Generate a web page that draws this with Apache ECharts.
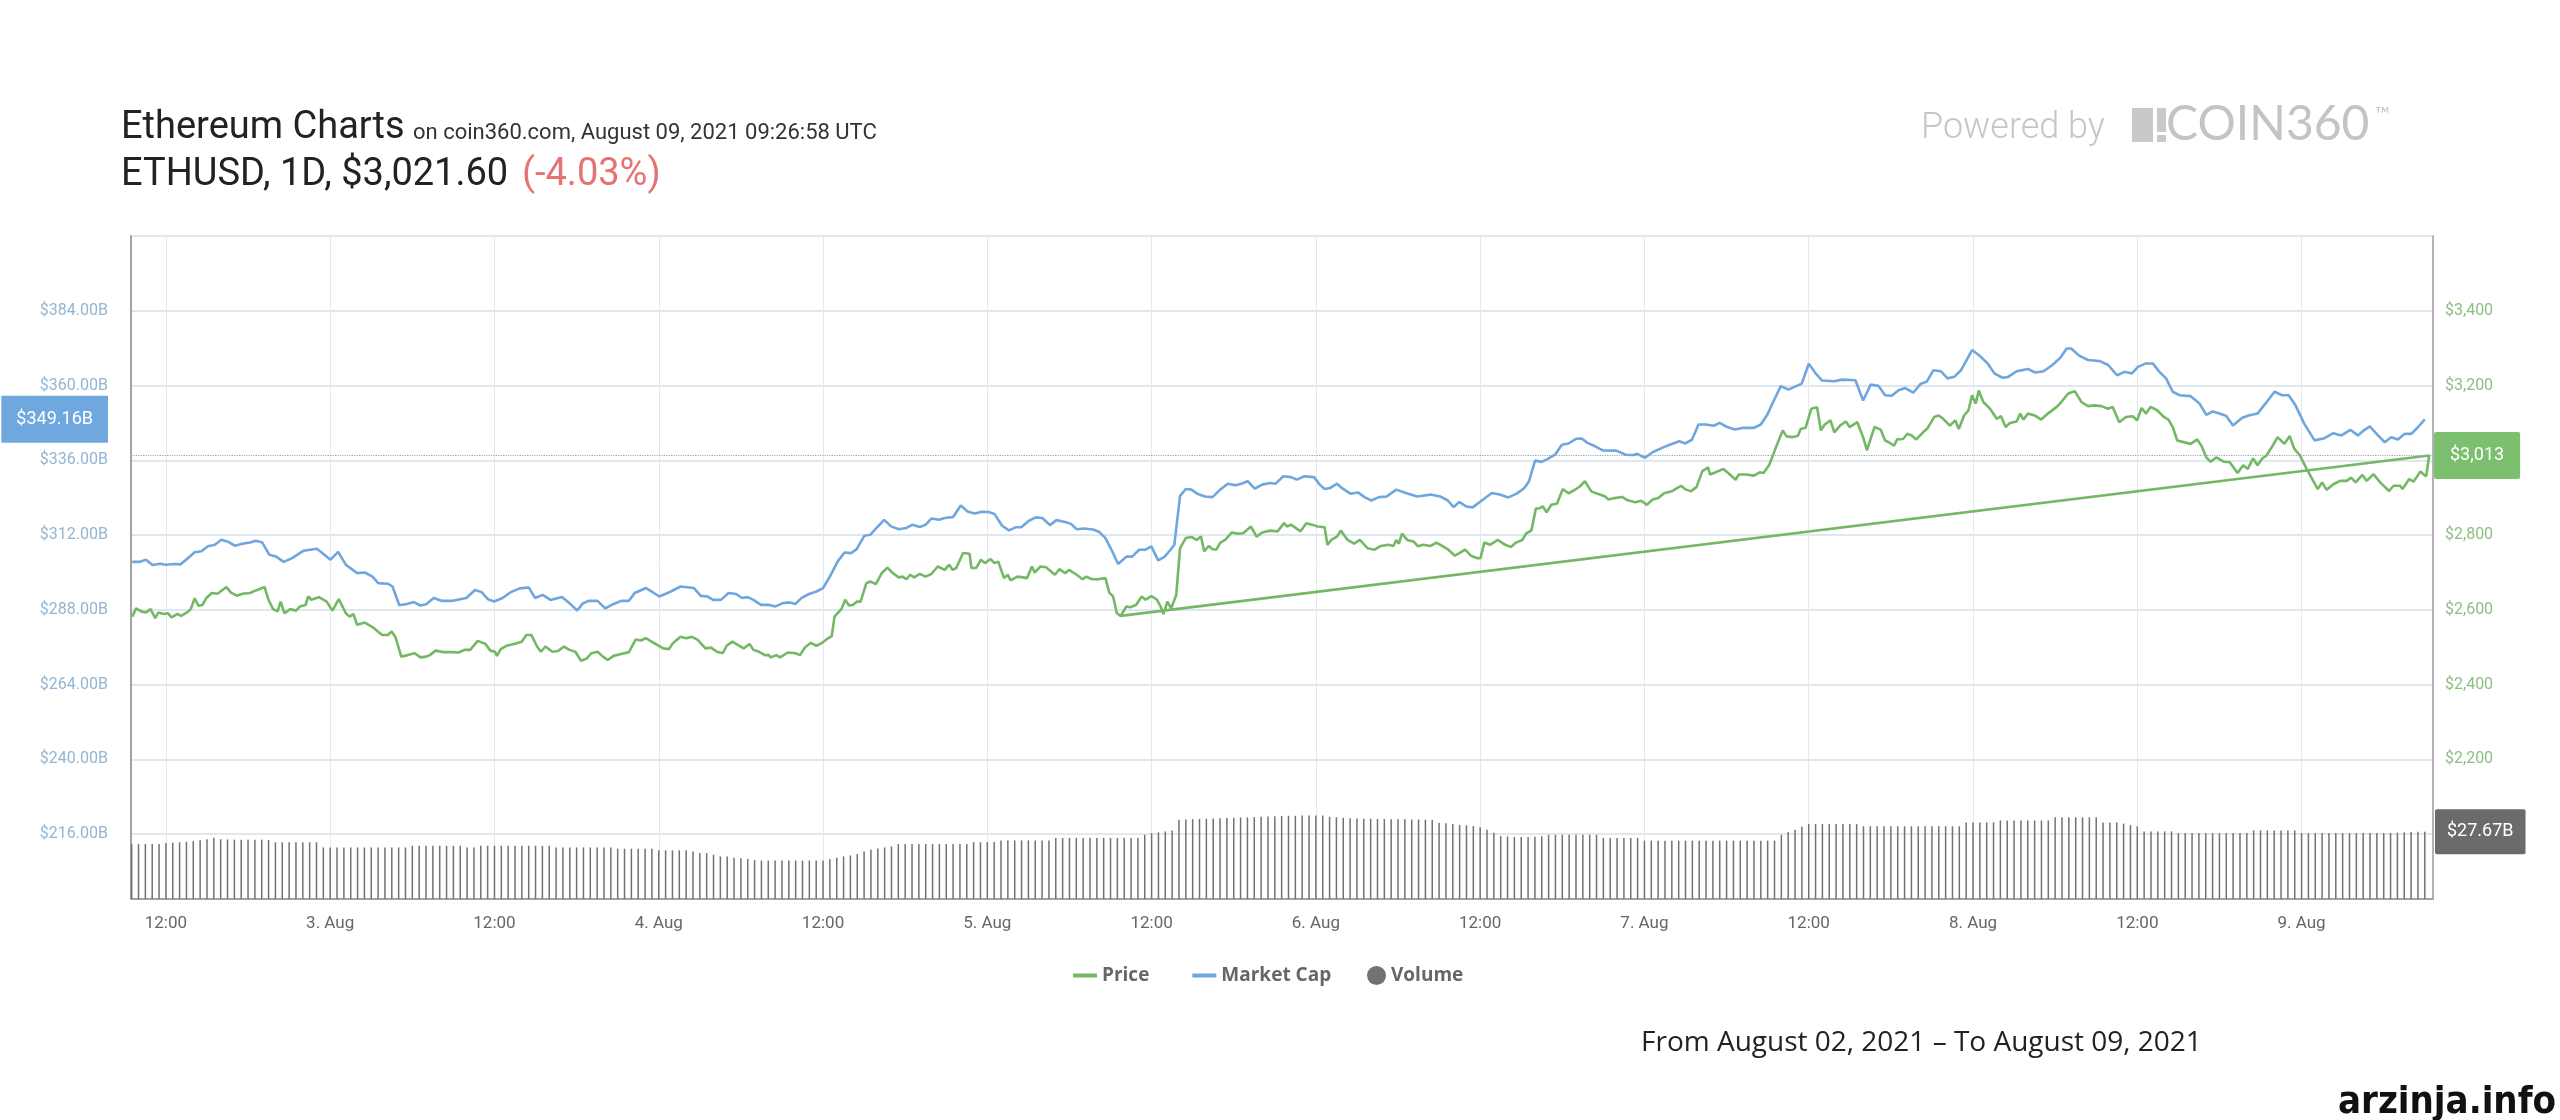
<!DOCTYPE html>
<html><head><meta charset="utf-8">
<script src="https://cdn.jsdelivr.net/npm/echarts@6.0.0/dist/echarts.min.js"></script>
<style>html,body{margin:0;padding:0;background:#fff;}#c{width:2560px;height:1120px;}</style>
</head><body><div id="c"></div>
<script>
// ---- data (hours counted from Aug 02, 2021 00:00 UTC) ----
const marketCapPoints = [[9.54,303.4],[10.04,303.4],[10.55,304.1],[11.02,302.4],[11.58,302.8],[12.00,302.5],[12.56,302.7],[13.06,302.6],[13.54,304.3],[14.10,306.5],[14.60,306.8],[15.07,308.4],[15.58,308.9],[16.05,310.5],[16.53,309.9],[17.03,308.6],[17.59,309.2],[18.15,309.6],[18.57,310.2],[19.04,309.6],[19.55,305.7],[20.05,305.1],[20.61,303.4],[21.22,304.6],[22.06,307.0],[23.04,307.6],[24.02,304.1],[24.58,306.6],[25.14,302.5],[25.97,299.8],[26.53,300.0],[27.09,298.7],[27.51,296.6],[28.21,296.4],[28.55,295.5],[29.05,289.5],[29.61,289.9],[30.11,290.5],[30.59,289.4],[31.01,289.8],[31.56,291.8],[32.12,290.9],[32.96,290.9],[33.94,291.8],[34.58,294.4],[35.06,293.7],[35.53,291.4],[35.98,290.7],[36.59,291.8],[37.15,293.6],[37.85,294.9],[38.50,295.2],[38.97,291.8],[39.53,292.8],[40.09,291.2],[40.93,292.1],[41.49,290.1],[42.04,287.8],[42.46,290.1],[42.88,290.9],[43.53,290.9],[44.09,288.5],[44.70,289.9],[45.26,290.9],[45.82,290.9],[46.24,293.4],[47.08,295.0],[48.05,292.3],[48.89,293.9],[49.59,295.5],[50.57,295.0],[51.07,292.5],[51.55,292.3],[51.97,291.2],
[52.54,291.2],[53.10,293.4],[53.66,293.1],[54.07,291.8],[54.49,292.1],[54.91,291.2],[55.47,289.6],[56.03,289.6],[56.53,289.1],[57.01,290.1],[57.57,290.4],[57.99,289.9],[58.41,291.8],[58.97,293.1],[59.52,293.9],[60.00,295.0],[60.50,298.7],[61.06,303.5],[61.57,306.4],[62.04,306.2],[62.46,307.5],[63.02,311.8],[63.44,312.1],[63.91,314.3],[64.47,316.9],[64.97,314.8],[65.53,313.9],[66.09,314.3],[66.51,315.3],[67.07,314.6],[67.49,315.3],[67.91,317.3],[68.47,316.9],[68.89,317.5],[69.50,317.8],[70.06,321.5],[70.56,319.6],[71.07,318.9],[71.63,319.5],[72.10,319.4],[72.52,318.8],[73.08,315.0],[73.58,313.5],[74.06,314.5],[74.48,314.5],[75.04,316.6],[75.54,317.7],[76.02,317.5],[76.57,315.2],[77.05,316.8],[77.69,316.2],[78.11,315.6],[78.53,313.9],[79.09,314.1],[79.79,313.7],[80.21,312.9],[80.63,311.0],[81.19,306.2],[81.55,302.7],[82.16,305.1],[82.58,305.1],[83.09,307.3],[83.56,307.3],[83.98,308.4],[84.48,303.9],[84.96,305.1],[85.38,307.3],[85.66,308.9],[86.08,324.6],[86.50,326.8],[86.91,326.6],[87.33,325.3],[87.89,324.4],[88.45,324.2],[89.01,326.6],[89.57,328.5],[90.13,328.0],[90.55,328.5],[91.02,329.3],[91.53,326.9],[92.08,328.2],[92.64,328.7],[93.06,328.5],[93.62,330.9],[94.18,330.6],[94.60,329.8],
[95.16,330.9],[95.86,330.6],[96.28,328.2],[96.64,326.8],[97.03,327.1],[97.54,328.5],[97.96,326.9],[98.52,325.3],[99.07,325.7],[99.55,324.2],[100.05,323.1],[100.61,324.2],[101.17,324.4],[101.87,326.6],[102.57,325.5],[103.41,324.4],[104.38,325.0],[105.08,324.4],[105.64,323.1],[106.06,321.0],[106.48,322.6],[106.98,321.2],[107.46,320.9],[108.02,322.8],[108.86,325.5],[109.42,325.0],[110.06,324.1],[110.67,325.3],[111.23,327.1],[111.57,329.3],[112.01,335.9],[112.49,335.5],[112.91,336.4],[113.47,337.8],[113.97,341.0],[114.45,341.4],[115.00,342.9],[115.42,343.0],[115.84,341.6],[116.40,340.5],[116.96,339.2],[117.94,339.1],[118.64,337.8],[119.20,337.7],[119.48,338.1],[120.04,336.8],[120.59,338.6],[121.29,340.0],[121.85,341.0],[122.55,342.1],[122.97,341.4],[123.47,342.6],[123.95,347.5],[124.51,347.5],[125.07,347.1],[125.49,348.0],[126.04,346.7],[126.60,345.9],[127.16,346.4],[128.00,346.4],[128.50,347.5],[128.98,350.7],[129.54,356.0],[129.96,359.8],[130.52,358.7],[131.08,359.8],[131.49,360.6],[132.00,367.0],[132.47,364.1],[132.98,361.6],[133.87,361.4],[134.43,361.9],[135.41,361.7],[135.97,355.2],[136.53,360.3],
[137.09,359.9],[137.58,356.9],[138.07,356.7],[138.56,358.5],[139.05,359.2],[139.64,357.7],[140.19,360.6],[140.61,361.2],[141.10,364.9],[141.65,364.6],[142.14,362.3],[142.63,362.8],[143.12,364.9],[143.93,371.4],[144.42,369.8],[145.07,367.1],[145.56,363.9],[146.15,362.5],[146.54,362.7],[147.19,364.6],[148.01,365.3],[148.56,364.2],[149.15,364.6],[149.80,366.6],[150.38,368.9],[150.84,371.9],[151.17,371.9],[151.75,369.6],[152.40,368.2],[153.22,367.9],[153.87,366.6],[154.52,363.3],[155.07,364.4],[155.60,363.9],[156.05,366.0],[156.64,367.1],[157.13,367.1],[157.62,364.4],[158.10,362.3],[158.59,358.0],[159.08,356.9],[159.90,356.6],[160.55,354.2],[161.04,350.6],[161.52,351.7],[162.01,351.0],[162.50,350.2],[162.99,347.2],[163.64,349.6],[164.13,350.4],[164.78,351.0],[165.27,353.7],[166.02,358.0],[166.57,356.9],[167.06,356.9],[167.55,353.7],[168.20,347.7],[168.95,342.4],[169.67,343.1],[170.32,344.7],[170.91,344.0],[171.56,345.8],[172.11,344.0],[172.60,345.8],[172.99,346.9],[173.58,344.0],[174.07,341.8],[174.55,343.4],[175.04,342.7],[175.53,344.5],[176.02,344.5],[176.51,346.7],[177.00,349.16]];

const pricePoints = [[9.54,2582],[9.82,2604],[10.18,2596],[10.55,2593],[10.88,2602],[11.22,2578],[11.44,2593],[11.86,2589],[12.14,2591],[12.42,2580],[12.84,2589],[13.12,2584],[13.54,2593],[13.82,2602],[14.10,2631],[14.38,2611],[14.66,2613],[14.94,2631],[15.35,2645],[15.77,2643],[16.42,2661],[16.75,2646],[17.17,2638],[17.59,2643],[18.15,2645],[18.57,2652],[19.21,2661],[19.49,2627],[19.83,2602],[20.16,2596],[20.38,2622],[20.66,2591],[21.08,2602],[21.50,2598],[21.78,2609],[22.20,2613],[22.40,2636],[22.62,2627],[23.18,2634],[23.74,2622],[24.16,2598],[24.63,2629],[25.14,2591],[25.42,2582],[25.69,2589],[25.97,2560],[26.53,2566],[27.09,2554],[27.79,2533],[28.21,2533],[28.49,2542],[28.77,2527],[29.19,2475],[29.66,2479],[30.17,2484],[30.59,2473],[31.01,2475],[31.28,2479],[31.70,2491],[32.26,2487],[32.96,2487],[33.38,2486],[33.80,2493],[34.22,2493],[34.78,2517],[35.34,2509],[35.70,2491],[36.04,2488],[36.18,2477],[36.46,2495],[36.87,2504],[37.43,2509],[37.99,2515],[38.33,2533],[38.69,2533],[39.11,2502],[39.39,2488],[39.72,2502],[40.23,2488],[40.65,2490],[41.07,2502],[41.49,2493],[41.91,2488],[42.32,2464],[42.74,2470],[43.08,2484],[43.53,2488],[43.92,2475],[44.28,2466],[44.70,2477],[45.26,2482],[45.82,2487],[46.32,2521],[46.66,2518],[47.08,2524],[47.63,2512],[48.33,2497],[48.75,2495],[49.03,2511],[49.59,2528],[50.01,2524],[50.43,2528],[50.85,2520],[51.41,2497],[51.83,2499],[52.25,2488],
[52.68,2484],[52.96,2504],[53.38,2515],[53.80,2506],[54.21,2497],[54.63,2509],[54.91,2493],[55.33,2488],[55.75,2479],[56.03,2479],[56.17,2473],[56.59,2479],[56.87,2473],[57.43,2486],[57.99,2484],[58.32,2479],[58.69,2500],[59.11,2512],[59.52,2504],[59.94,2512],[60.36,2524],[60.64,2530],[60.84,2582],[61.06,2591],[61.34,2602],[61.62,2627],[61.90,2612],[62.18,2613],[62.46,2622],[62.74,2622],[63.16,2671],[63.44,2676],[63.86,2669],[64.28,2698],[64.70,2713],[65.11,2698],[65.53,2687],[65.81,2689],[66.09,2682],[66.37,2694],[66.65,2687],[67.07,2696],[67.49,2689],[67.91,2696],[68.38,2716],[68.89,2707],[69.22,2721],[69.45,2707],[69.73,2712],[70.23,2752],[70.70,2750],[70.84,2712],[71.18,2712],[71.54,2734],[71.82,2725],[72.24,2736],[72.52,2725],[72.80,2729],[73.22,2685],[73.50,2694],[73.70,2679],[74.20,2689],[74.62,2687],[74.90,2685],[75.26,2716],[75.46,2700],[75.88,2716],[76.29,2714],[76.94,2694],[77.27,2709],[77.69,2698],[77.97,2707],[78.53,2694],[78.95,2682],[79.23,2689],[79.65,2682],[80.07,2682],[80.63,2685],[80.91,2646],[81.19,2636],[81.46,2591],[81.74,2584],[82.16,2609],[82.44,2607],[82.86,2613],[83.28,2636],[83.56,2627],[83.98,2637],[84.40,2627],[84.68,2607],[84.87,2589],[85.15,2622],[85.43,2604],[85.80,2640],[86.08,2765],[86.50,2792],[86.91,2795],[87.28,2787],[87.61,2796],[87.84,2756],[88.17,2771],[88.45,2762],[88.73,2761],[89.01,2779],[89.43,2789],[89.85,2807],[90.27,2804],[90.69,2805],[91.25,2823],[91.67,2796],[92.08,2807],[92.64,2812],[93.20,2810],[93.68,2832],[93.90,2823],[94.18,2828],
[94.88,2810],[95.30,2832],[95.72,2828],[96.14,2823],[96.64,2821],[96.84,2774],[97.12,2787],[97.54,2796],[97.82,2812],[98.32,2787],[98.79,2777],[99.21,2787],[99.77,2765],[100.28,2761],[100.75,2771],[101.31,2774],[101.67,2771],[101.87,2787],[102.06,2777],[102.29,2804],[102.71,2786],[103.13,2783],[103.46,2770],[103.83,2774],[104.38,2771],[104.80,2780],[105.22,2771],[105.64,2762],[106.15,2745],[106.48,2752],[106.90,2761],[107.32,2745],[107.82,2738],[108.02,2738],[108.30,2780],[108.72,2774],[109.28,2787],[109.83,2774],[110.25,2768],[110.62,2780],[111.09,2787],[111.37,2805],[111.74,2812],[112.07,2871],[112.35,2872],[112.57,2877],[112.85,2861],[113.19,2881],[113.61,2884],[114.03,2923],[114.45,2912],[114.87,2920],[115.28,2930],[115.65,2944],[116.12,2917],[116.54,2911],[117.10,2904],[117.38,2895],[117.80,2899],[118.36,2902],[118.78,2893],[119.34,2888],[119.76,2892],[120.18,2881],[120.59,2895],[121.01,2899],[121.43,2912],[121.99,2917],[122.41,2926],[122.69,2932],[122.97,2923],[123.39,2917],[123.81,2929],[124.23,2971],[124.65,2981],[124.79,2962],[125.21,2968],[125.77,2977],[126.18,2964],[126.66,2948],[126.88,2962],[127.44,2962],[128.00,2959],[128.42,2968],[128.70,2966],[129.12,2988],[129.68,3042],[130.10,3080],[130.38,3064],[130.80,3062],[131.22,3066],[131.41,3084],[131.77,3087],[132.19,3138],[132.61,3142],[132.89,3080],[133.17,3096],[133.59,3107],[133.87,3075],[134.29,3093],[134.71,3104],[134.99,3089],[135.55,3102],[135.97,3062],[136.25,3027],[136.80,3089],
[137.26,3082],[137.58,3053],[137.91,3047],[138.23,3039],[138.46,3056],[138.89,3057],[139.21,3071],[139.54,3066],[139.86,3056],[140.35,3075],[140.68,3086],[141.17,3116],[141.49,3120],[141.82,3111],[142.31,3093],[142.70,3107],[142.96,3084],[143.35,3120],[143.67,3134],[143.93,3174],[144.20,3152],[144.42,3187],[144.75,3156],[145.24,3138],[145.73,3111],[146.05,3118],[146.38,3089],[146.70,3100],[147.19,3104],[147.45,3125],[147.68,3109],[148.01,3125],[148.50,3120],[148.98,3109],[149.47,3125],[150.12,3143],[150.45,3156],[150.94,3178],[151.43,3185],[151.92,3156],[152.40,3145],[152.89,3147],[153.38,3145],[153.87,3138],[154.20,3143],[154.68,3102],[155.17,3116],[155.66,3118],[155.99,3107],[156.31,3140],[156.64,3125],[156.97,3143],[157.45,3134],[157.94,3116],[158.27,3109],[158.59,3089],[158.92,3053],[159.24,3050],[159.90,3044],[160.38,3056],[160.71,3037],[161.04,3008],[161.36,2996],[161.78,3008],[162.34,2996],[162.76,2995],[163.32,2966],[163.74,2987],[164.07,2977],[164.46,3005],[164.78,2987],[165.11,3004],[165.44,3013],[165.92,3041],[166.25,3062],[166.74,3044],[167.13,3065],[167.45,3032],[167.88,3013],[168.36,2978],[168.85,2945],[169.18,2923],[169.50,2941],[169.83,2921],[170.32,2936],[170.81,2945],[171.30,2945],[171.62,2954],[171.95,2941],[172.44,2961],[172.76,2945],[173.25,2963],[173.74,2941],[174.39,2918],[174.72,2932],[175.20,2932],[175.37,2923],[175.86,2950],[176.18,2943],[176.68,2970],[177.10,2957],[177.32,3013],
[81.74,2584]];

// volume bars, one every 30 minutes starting Aug 02 09:30
const volumeStartHour = 9.5;
const volumeStepHours = 0.5;
const volumeValues = [
22.6,22.6,22.6,22.6,22.6,
23.0,23.1,23.3,23.5,23.8,
24.2,24.6,25.2,
24.6,24.5,24.4,24.4,24.4,24.4,24.4,24.3,
23.3,23.3,23.3,23.3,23.3,23.3,23.3,
21.2,21.2,21.2,21.2,21.2,21.2,21.2,21.2,21.2,21.2,21.2,21.2,21.2,
21.9,21.9,21.9,21.9,21.9,21.9,21.9,21.9,
21.2,21.2,
21.9,21.9,21.9,21.9,21.9,21.9,21.9,21.9,21.9,21.9,21.9,
21.2,21.2,21.2,21.2,21.2,21.2,21.2,21.2,21.2,
20.7,20.7,20.7,20.7,20.7,20.7,
20.0,20.0,20.0,20.0,20.0,
19.5,18.9,18.9,18.2,
17.5,17.5,17.0,16.8,
16.5,16.0,
15.8,15.8,15.8,15.8,15.8,15.8,15.8,15.8,15.8,15.8,
16.4,17.0,17.5,17.9,18.5,
19.5,20.3,20.8,21.2,21.6,
22.6,22.6,22.6,22.6,22.6,22.6,22.6,22.6,22.6,22.6,22.6,
23.4,23.4,23.4,23.4,
24.1,24.1,24.1,24.1,24.1,24.1,24.1,24.1,
25.1,25.1,25.1,25.1,25.1,25.1,25.1,25.1,25.1,25.1,25.1,25.1,25.1,
26.4,27.1,
27.4,27.8,28.2,
32.6,32.7,32.8,32.9,33.0,33.1,33.2,33.3,33.4,33.5,33.6,33.7,33.8,33.9,34.0,34.1,34.2,34.2,34.3,34.3,34.3,34.3,
33.8,33.6,33.4,33.2,33.1,33.0,33.0,32.9,32.9,32.8,32.8,32.8,32.7,32.7,32.6,32.5,
31.4,31.1,30.8,30.5,30.3,30.0,29.5,28.5,27.2,25.9,
25.7,25.5,25.5,25.5,25.6,25.8,
26.4,26.4,26.4,26.4,26.4,26.4,26.4,26.4,
25.1,25.1,25.1,25.1,25.1,25.1,
24.0,24.0,24.0,24.0,24.0,24.0,24.0,24.0,24.0,24.0,24.0,24.0,24.0,24.0,24.0,24.0,24.0,24.0,24.0,24.0,
26.4,27.5,28.5,29.8,30.8,
30.8,30.8,30.8,30.8,30.8,30.8,30.8,
29.9,29.9,29.9,29.9,29.9,29.9,29.9,29.9,29.9,29.9,29.9,29.9,29.9,29.9,29.9,
31.5,31.5,31.5,31.5,31.5,
32.3,32.3,32.3,32.3,32.3,32.3,32.3,32.3,
33.6,33.6,33.6,33.6,33.6,33.6,33.6,
31.5,31.5,31.5,31.0,30.4,29.9,
27.8,27.8,27.8,27.8,27.8,
27.1,27.1,27.1,27.1,27.1,27.1,27.1,27.1,27.1,27.1,27.1,
28.2,28.2,28.2,28.2,28.2,28.2,28.2,
27.1,27.1,27.1,27.1,27.1,27.1,27.1,27.1,27.1,27.1,27.1,27.1,27.1,27.2,27.3,27.4,27.5,27.6,27.67];

const timeTickHours = [12,24,36,48,60,72,84,96,108,120,132,144,156,168];
const capLabelTicks = [216,240,264,288,312,336,360,384];
const capGridTicks = [216,240,264,288,312,336,360,384,408];
const priceLabelTicks = [2000,2200,2400,2600,2800,3000,3200,3400];
const lastCap = 349.16;
const lastPrice = 3013;
const lastVolume = 27.67;

const volumeData = volumeValues.map((v, i) => [volumeStartHour + i * volumeStepHours, v]);

const GREEN = '#74b866';
const BLUE = '#70a6de';
const GRAY = '#727272';
const CLEAR = 'rgba(0,0,0,0)';

const chart = echarts.init(document.getElementById('c'), null, {renderer: 'canvas'});
const fmtPrice = v => '$' + Number(v).toLocaleString('en-US');
const fmtCap = v => '$' + Number(v).toFixed(2) + 'B';

chart.setOption({
  animation: false,
  backgroundColor: '#ffffff',
  textStyle: {fontFamily: 'Roboto'},
  grid: {left: 131, right: 127, top: 236, bottom: 221, containLabel: false},
  xAxis: {
    type: 'value', min: 9.45, max: 177.6,
    axisLine: {show: true, onZero: false, lineStyle: {color: '#a3a3a3', width: 2}},
    axisTick: {show: false, customValues: timeTickHours},
    axisLabel: {
      customValues: timeTickHours, color: '#666', fontSize: 17, margin: 16,
      formatter: v => (v % 24 === 0 ? (2 + v / 24) + '. Aug' : '12:00')
    },
    splitLine: {show: true, lineStyle: {color: '#e5e8ec', width: 1}}
  },
  yAxis: [
    {
      type: 'value', position: 'left', min: 195.2, max: 408,
      axisLine: {show: true, lineStyle: {color: '#a3a3a3', width: 2}},
      axisTick: {show: false, customValues: capGridTicks},
      axisLabel: {customValues: capLabelTicks, formatter: fmtCap, color: '#93b5d3', fontSize: 16, margin: 23},
      splitLine: {show: true, lineStyle: {color: '#d6e0ea', width: 1.5}}
    },
    {
      type: 'value', position: 'right', min: 1826.7, max: 3600,
      axisLine: {show: true, lineStyle: {color: '#9a9a9a', width: 1.5}},
      axisTick: {show: false},
      axisLabel: {customValues: priceLabelTicks, formatter: fmtPrice, color: '#8cc07e', fontSize: 16, margin: 12},
      splitLine: {show: false}
    },
    {type: 'value', show: false, min: 0, max: 272.6, splitLine: {show: false}}
  ],
  legend: [
    {
      data: [{name: 'Price', icon: 'rect'}, {name: 'Market Cap', icon: 'rect'}],
      left: 1068, top: 961, itemWidth: 24, itemHeight: 4, itemGap: 43,
      textStyle: {color: '#666', fontSize: 19, fontWeight: 'bold', fontFamily: 'Open Sans'}
    },
    {
      data: [{name: 'Volume', icon: 'circle'}],
      left: 1362, top: 961, itemWidth: 19, itemHeight: 20,
      textStyle: {color: '#666', fontSize: 19, fontWeight: 'bold', fontFamily: 'Open Sans'}
    }
  ],
  series: [
    {
      name: 'Volume', type: 'bar', xAxisIndex: 0, yAxisIndex: 2, data: volumeData,
      barWidth: 1.5, itemStyle: {color: GRAY}, z: 1, silent: true,
      markLine: {
        symbol: 'none', silent: true, animation: false, z: 10,
        lineStyle: {color: CLEAR, width: 0},
        label: {show: true, position: 'end', distance: 2, formatter: p => fmtCap(p.value),
          color: '#fff', backgroundColor: '#6b6b6b', padding: [13, 12, 13, 12], fontSize: 18, lineHeight: 19, borderRadius: 2},
        data: [{yAxis: lastVolume}]
      }
    },
    {
      name: 'Market Cap', type: 'line', yAxisIndex: 0, data: marketCapPoints,
      showSymbol: false, symbol: 'none', lineStyle: {color: BLUE, width: 2.6}, itemStyle: {color: BLUE}, z: 3,
      markLine: {
        symbol: 'none', silent: true, animation: false, z: 10,
        lineStyle: {color: CLEAR, width: 0},
        label: {show: true, position: 'start', distance: 23, formatter: p => fmtCap(p.value),
          color: '#fff', backgroundColor: '#6fa8de', padding: [14, 15, 14, 15], fontSize: 18, lineHeight: 19},
        data: [{yAxis: lastCap}]
      }
    },
    {
      name: 'Price', type: 'line', yAxisIndex: 1, data: pricePoints,
      showSymbol: false, symbol: 'none', lineStyle: {color: GREEN, width: 2.6}, itemStyle: {color: GREEN}, z: 4,
      markLine: {
        symbol: 'none', silent: true, animation: false, z: 10,
        lineStyle: {color: '#9aa4ae', type: 'dotted', width: 1.2},
        label: {show: true, position: 'end', distance: 1, formatter: p => fmtPrice(p.value),
          color: '#fff', backgroundColor: '#7cbf6e', padding: [14, 16, 14, 16], fontSize: 18, lineHeight: 19, borderRadius: 2},
        data: [{yAxis: lastPrice}]
      }
    }
  ],
  graphic: [
    {type: 'text', x: 121, y: 128, style: {text: 'Ethereum Charts', fill: '#222', font: '38px Roboto', verticalAlign: 'middle'}},
    {type: 'text', x: 413, y: 133, style: {text: 'on coin360.com, August 09, 2021 09:26:58 UTC', fill: '#333', font: '22px Roboto', verticalAlign: 'middle'}},
    {type: 'text', x: 121, y: 175, style: {text: 'ETHUSD, 1D, $3,021.60', fill: '#222', font: '38px Roboto', verticalAlign: 'middle'}},
    {type: 'text', x: 522, y: 175, style: {text: '(-4.03%)', fill: '#e57373', font: '38px Roboto', verticalAlign: 'middle'}},
    {type: 'text', x: 1921, y: 129, style: {text: 'Powered by', fill: '#c6c6c6', font: '300 36px Roboto', verticalAlign: 'middle'}},
    {type: 'rect', shape: {x: 2132, y: 108, width: 21, height: 34}, style: {fill: '#c9c9c9'}},
    {type: 'rect', shape: {x: 2157, y: 108, width: 9, height: 24}, style: {fill: '#c9c9c9'}},
    {type: 'rect', shape: {x: 2157, y: 135, width: 9, height: 7}, style: {fill: '#c9c9c9'}},
    {type: 'text', x: 2166, y: 125, style: {text: 'COIN360', fill: '#c4c4c4', font: '400 48px Lato', verticalAlign: 'middle'}},
    {type: 'text', x: 2375, y: 115, style: {text: '\u2122', fill: '#c9c9c9', font: '20px Lato', verticalAlign: 'middle'}},
    {type: 'text', x: 1641, y: 1043, style: {text: 'From August 02, 2021 \u2013 To August 09, 2021', fill: '#222', font: '28px "Open Sans"', verticalAlign: 'middle'}},
    {type: 'text', x: 2338, y: 1103, style: {text: 'arzinja.info', fill: '#111', font: 'bold 38px "Liberation Sans Narrow", "DejaVu Sans Condensed", sans-serif', verticalAlign: 'middle'}}
  ]
});
</script>
</body></html>
